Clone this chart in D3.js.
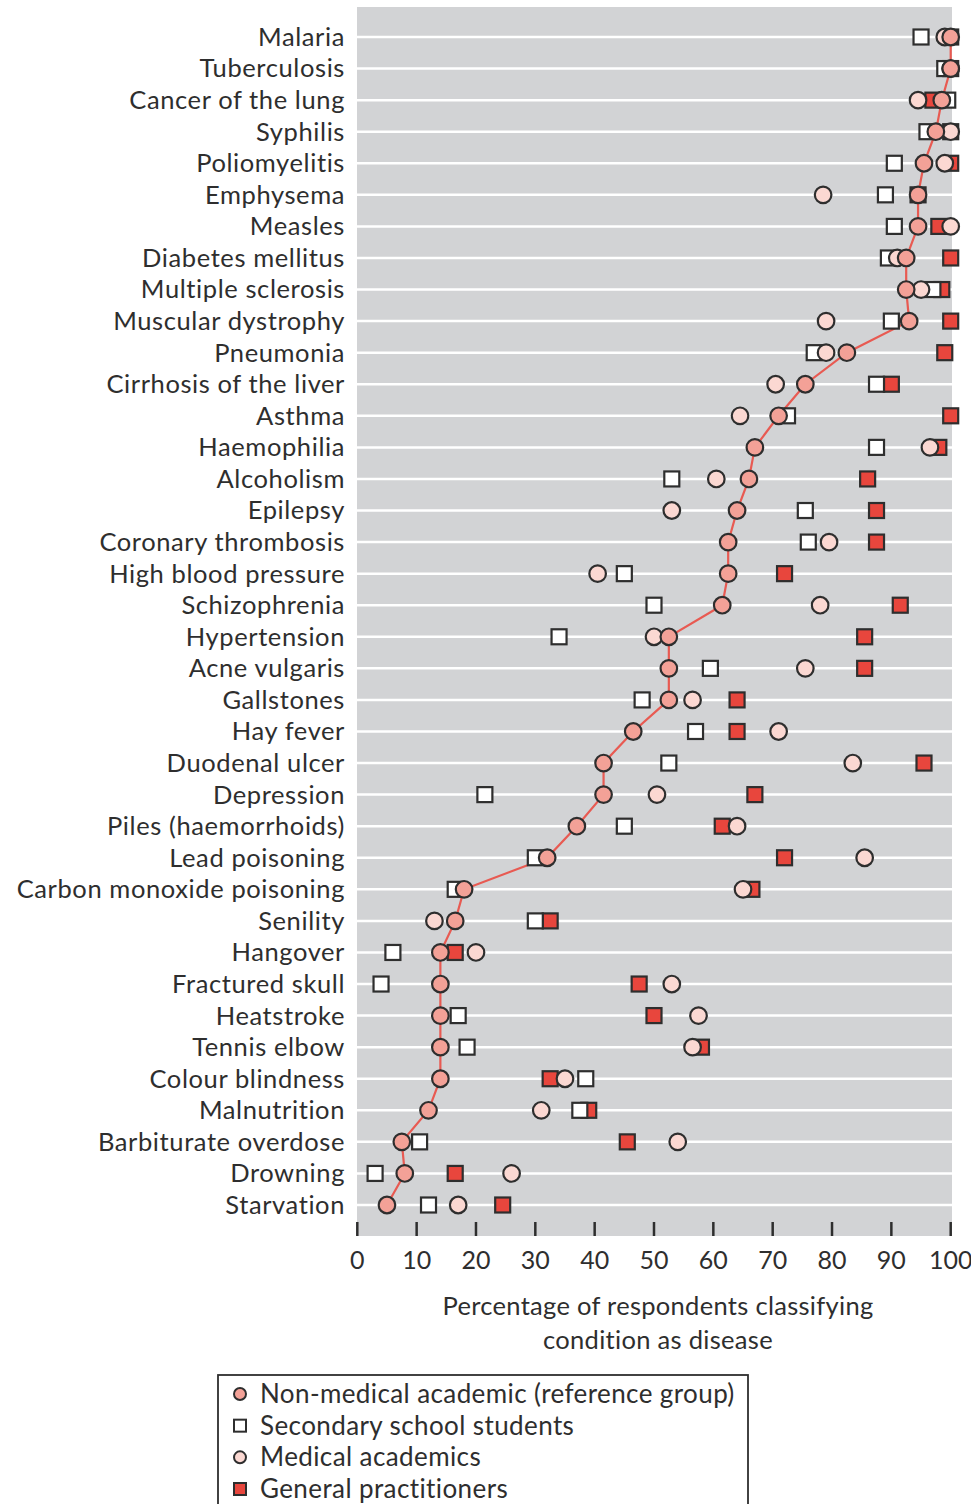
<!DOCTYPE html>
<html>
<head>
<meta charset="utf-8">
<script src="https://cdn.jsdelivr.net/npm/d3@7"></script>
<style>
  body { margin: 0; background: #fff; }
  svg { display: block; font-family: Lato, "Open Sans", sans-serif; }
</style>
</head>
<body>
<svg id="chart" width="971" height="1504"></svg>
<script>
// conditions, top to bottom
const conditions = [
    "Malaria", "Tuberculosis", "Cancer of the lung", "Syphilis", "Poliomyelitis",
    "Emphysema", "Measles", "Diabetes mellitus", "Multiple sclerosis", "Muscular dystrophy",
    "Pneumonia", "Cirrhosis of the liver", "Asthma", "Haemophilia", "Alcoholism",
    "Epilepsy", "Coronary thrombosis", "High blood pressure", "Schizophrenia", "Hypertension",
    "Acne vulgaris", "Gallstones", "Hay fever", "Duodenal ulcer", "Depression",
    "Piles (haemorrhoids)", "Lead poisoning", "Carbon monoxide poisoning", "Senility", "Hangover",
    "Fractured skull", "Heatstroke", "Tennis elbow", "Colour blindness", "Malnutrition",
    "Barbiturate overdose", "Drowning", "Starvation"
]

// % of respondents classifying the condition as a disease
const nonMedical = [100, 100, 98.5, 97.5, 95.5, 94.5, 94.5, 92.5, 92.5, 93,
    82.5, 75.5, 71, 67, 66, 64, 62.5, 62.5, 61.5, 52.5,
    52.5, 52.5, 46.5, 41.5, 41.5, 37, 32, 18, 16.5, 14,
    14, 14, 14, 14, 12, 7.5, 8, 5]
const schoolStudents = [95, 99, 99.5, 96, 90.5, 89, 90.5, 89.5, 97, 90,
    77, 87.5, 72.5, 87.5, 53, 75.5, 76, 45, 50, 34,
    59.5, 48, 57, 52.5, 21.5, 45, 30, 16.5, 30, 6,
    4, 17, 18.5, 38.5, 37.5, 10.5, 3, 12]
const medicalAcademics = [99, 100, 94.5, 100, 99, 78.5, 100, 91, 95, 79,
    79, 70.5, 64.5, 96.5, 60.5, 53, 79.5, 40.5, 78, 50,
    75.5, 56.5, 71, 83.5, 50.5, 64, 85.5, 65, 13, 20,
    53, 57.5, 56.5, 35, 31, 54, 26, 17]
const generalPractitioners = [100, 100, 97, 100, 100, 94.5, 98, 100, 98.5, 100,
    99, 90, 100, 98, 86, 87.5, 87.5, 72, 91.5, 85.5,
    85.5, 64, 64, 95.5, 67, 61.5, 72, 66.5, 32.5, 16.5,
    47.5, 50, 58, 32.5, 39, 45.5, 16.5, 24.5]

const xTicks = [0, 10, 20, 30, 40, 50, 60, 70, 80, 90, 100]
const axisTitle = ["Percentage of respondents classifying", "condition as disease"]
const legendLabels = ["Non-medical academic (reference group)", "Secondary school students",
    "Medical academics", "General practitioners"]

const ink = "#2e2e2e"
const colRef = "#f3a197"
const colMed = "#fbd8d2"
const colGP = "#e8463d"

const svg = d3.select("#chart")

const x = d3.scaleLinear().domain([0, 100]).range([357.3, 950.7])
const y = d3.scalePoint().domain(conditions).range([37, 1205])

const plot = { left: 357, right: 952, top: 7, bottom: 1236 }

// grey panel + white row lines
svg.append("rect")
    .attr("x", plot.left).attr("y", plot.top)
    .attr("width", plot.right - plot.left).attr("height", plot.bottom - plot.top)
    .attr("fill", "#d2d3d5")

svg.append("g")
    .selectAll("line")
    .data(conditions)
    .join("line")
    .attr("x1", plot.left).attr("x2", plot.right)
    .attr("y1", d => y(d)).attr("y2", d => y(d))
    .attr("stroke", "#fff").attr("stroke-width", 2.5)

// ticks sit inside the bottom of the panel
svg.append("g")
    .selectAll("line")
    .data(xTicks)
    .join("line")
    .attr("x1", d => x(d)).attr("x2", d => x(d))
    .attr("y1", plot.bottom - 14).attr("y2", plot.bottom)
    .attr("stroke", ink).attr("stroke-width", 2.5)

svg.append("g")
    .selectAll("text")
    .data(xTicks)
    .join("text")
    .attr("x", d => x(d)).attr("y", 1269)
    .attr("text-anchor", "middle")
    .attr("font-size", 25).attr("fill", ink)
    .text(d => d)

// category labels
svg.append("g")
    .selectAll("text")
    .data(conditions)
    .join("text")
    .attr("x", 345).attr("y", d => y(d))
    .attr("dy", "0.35em")
    .attr("text-anchor", "end")
    .attr("font-size", 25.5).attr("letter-spacing", 0.6).attr("fill", ink)
    .text(d => d)

svg.append("g")
    .selectAll("text")
    .data(axisTitle)
    .join("text")
    .attr("x", 658).attr("y", (d, i) => 1315 + i * 34)
    .attr("text-anchor", "middle")
    .attr("font-size", 25.5).attr("letter-spacing", 0.3).attr("fill", ink)
    .text(d => d)

// reference group line
svg.append("path")
    .datum(conditions)
    .attr("fill", "none")
    .attr("stroke", "#e85a52").attr("stroke-width", 2.2)
    .attr("d", d3.line().x((d, i) => x(nonMedical[i])).y(d => y(d)))

const sq = 15, r = 8.3

const drawSquares = (vals, fill) => {
    svg.append("g")
        .selectAll("rect")
        .data(conditions)
        .join("rect")
        .attr("x", (d, i) => x(vals[i]) - sq / 2)
        .attr("y", d => y(d) - sq / 2)
        .attr("width", sq).attr("height", sq)
        .attr("fill", fill).attr("stroke", ink).attr("stroke-width", 2.2)
}

const drawCircles = (vals, fill) => {
    svg.append("g")
        .selectAll("circle")
        .data(conditions)
        .join("circle")
        .attr("cx", (d, i) => x(vals[i]))
        .attr("cy", d => y(d))
        .attr("r", r)
        .attr("fill", fill).attr("stroke", ink).attr("stroke-width", 2.2)
}

drawSquares(generalPractitioners, colGP)
drawSquares(schoolStudents, "#fff")
drawCircles(medicalAcademics, colMed)
drawCircles(nonMedical, colRef)

// legend
const legend = svg.append("g")
legend.append("rect")
    .attr("x", 218).attr("y", 1375)
    .attr("width", 530).attr("height", 140)
    .attr("fill", "#fff").attr("stroke", ink).attr("stroke-width", 1.8)

const legendTypes = [
    { shape: "circle", fill: colRef },
    { shape: "square", fill: "#fff" },
    { shape: "circle", fill: colMed },
    { shape: "square", fill: colGP }
]
const ly = d3.scaleLinear().domain([0, 3]).range([1394, 1489])

legendTypes.forEach((t, i) => {
    if (t.shape == "circle") {
        legend.append("circle")
            .attr("cx", 240).attr("cy", ly(i)).attr("r", 6)
            .attr("fill", t.fill).attr("stroke", ink).attr("stroke-width", 2)
    } else {
        legend.append("rect")
            .attr("x", 234).attr("y", ly(i) - 6).attr("width", 12).attr("height", 12)
            .attr("fill", t.fill).attr("stroke", ink).attr("stroke-width", 2)
    }
    legend.append("text")
        .attr("x", 260).attr("y", ly(i)).attr("dy", "0.35em")
        .attr("font-size", 26).attr("letter-spacing", 0.4).attr("fill", ink)
        .text(legendLabels[i])
})
</script>
</body>
</html>
